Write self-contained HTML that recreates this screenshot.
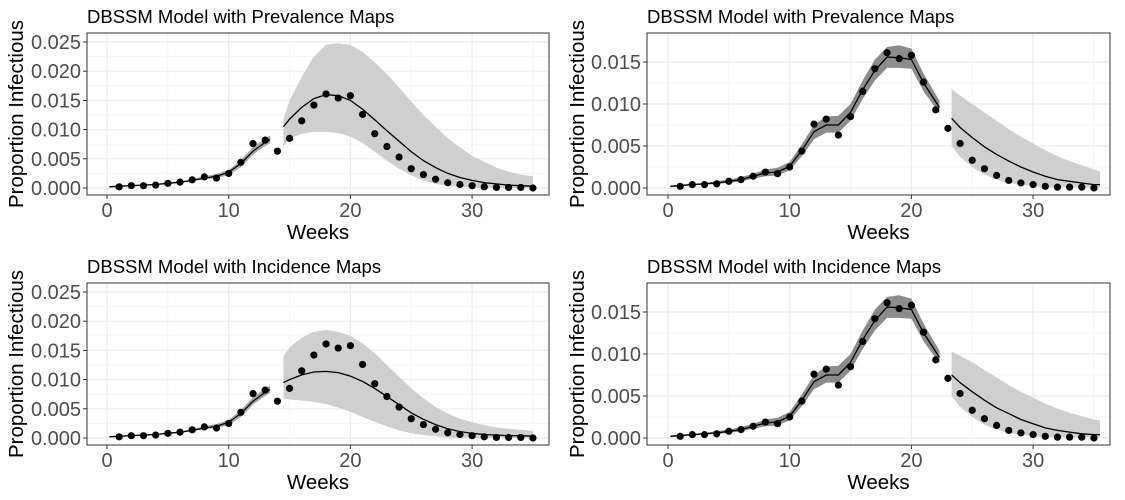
<!DOCTYPE html>
<html><head><meta charset="utf-8"><style>
body{margin:0;background:#fff}
svg{display:block;font-family:"Liberation Sans",Arial,sans-serif}
</style></head><body>
<svg id="c" width="1125" height="500" viewBox="0 0 1125 500" xmlns="http://www.w3.org/2000/svg"></svg>
<script>
const weeks = [1,2,3,4,5,6,7,8,9,10,11,12,13,14,15,16,17,18,19,20,21,22,23,24,25,26,27,28,29,30,31,32,33,34,35];
const observed = [.0002,.0004,.0004,.0005,.0008,.0010,.0014,.0019,.0017,.0025,.0044,.0076,.0082,.0063,.0085,.0115,.0142,.0161,.0154,.0158,.0126,.0093,.0071,.0053,.0033,.0023,.0015,.0009,.0006,.0004,.0002,.0001,.0001,.0001,.0000];

const fitWeeksL = [0.2,1,2,3,4,5,6,7,8,9,10,11,12,13,13.4];
const fitValL = [.0002,.0003,.0004,.0005,.0006,.0008,.0010,.0013,.0017,.0020,.0027,.0042,.0063,.0078,.0083];
const fitLoL = [.0001,.0002,.0003,.0004,.0005,.0007,.0009,.0012,.0015,.0017,.0022,.0036,.0057,.0072,.0077];
const fitHiL = [.0003,.0004,.0005,.0006,.0007,.0009,.0011,.0015,.0020,.0024,.0031,.0048,.0070,.0085,.0090];

const fcWeeksL = [14.5,15,16,17,18,19,20,21,22,23,24,25,26,27,28,29,30,31,32,33,34,35];
const fcValPrevL = [.0105,.0118,.0138,.0153,.0160,.0158,.0150,.0135,.0117,.0098,.0080,.0062,.0047,.0035,.0025,.0018,.0013,.0009,.0007,.0005,.0004,.0003];
const fcHiPrevL = [.0118,.0150,.0190,.0225,.0245,.0248,.0245,.0233,.0215,.0195,.0172,.0148,.0125,.0105,.0085,.0070,.0055,.0045,.0035,.0028,.0023,.0020];
const fcLoPrevL = [.0070,.0085,.0093,.0096,.0096,.0094,.0088,.0077,.0062,.0047,.0033,.0022,.0013,.0007,.0004,.0002,.0001,0,0,0,0,0];
const fcValIncL = [.0095,.0100,.0108,.0113,.0114,.0112,.0106,.0097,.0085,.0071,.0057,.0043,.0032,.0023,.0016,.0011,.0008,.0006,.0005,.0004,.0004,.0003];
const fcHiIncL = [.0140,.0155,.0172,.0182,.0185,.0182,.0175,.0162,.0145,.0125,.0105,.0085,.0068,.0053,.0042,.0033,.0027,.0022,.0018,.0016,.0014,.0012];
const fcLoIncL = [.0068,.0066,.0064,.0062,.0058,.0052,.0045,.0036,.0028,.0020,.0013,.0008,.0005,.0003,.0001,0,0,0,0,0,0,0];

const fitWeeksR = [0.2,1,2,3,4,5,6,7,8,9,10,11,12,13,14,15,16,17,18,19,20,21,22.3];
const fitValR = [.0002,.0003,.0004,.0005,.0006,.0008,.0010,.0014,.0018,.0019,.0026,.0045,.0067,.0075,.0075,.0090,.0117,.0140,.0156,.0155,.0153,.0125,.0096];
const fitLoR = [.0001,.0002,.0003,.0004,.0005,.0006,.0008,.0011,.0014,.0015,.0021,.0038,.0058,.0066,.0066,.0080,.0106,.0128,.0143,.0143,.0142,.0115,.0089];
const fitHiR = [.0003,.0004,.0005,.0006,.0008,.0010,.0013,.0017,.0022,.0024,.0031,.0052,.0075,.0085,.0086,.0100,.0128,.0153,.0168,.0170,.0166,.0136,.0104];

const fcWeeksR = [23.3,24,25,26,27,28,29,30,31,32,33,34,35,35.5];
const fcValPrevR = [.0083,.0072,.0060,.0049,.0040,.0032,.0025,.0019,.0014,.0010,.0008,.0006,.0004,.0004];
const fcHiPrevR = [.0118,.0110,.0100,.0090,.0080,.0070,.0061,.0053,.0045,.0038,.0032,.0027,.0022,.0020];
const fcLoPrevR = [.0050,.0037,.0025,.0016,.0010,.0006,.0004,.0002,.0001,.0001,.0001,.0001,.0001,.0001];
const fcValIncR = [.0075,.0066,.0055,.0045,.0036,.0029,.0022,.0017,.0012,.0009,.0007,.0005,.0004,.0004];
const fcHiIncR = [.0103,.0098,.0090,.0081,.0072,.0063,.0055,.0048,.0041,.0035,.0030,.0026,.0022,.0021];
const fcLoIncR = [.0050,.0037,.0025,.0016,.0010,.0006,.0004,.0002,.0001,.0001,.0001,.0001,.0001,.0001];

const yTicksL = [0,0.005,0.010,0.015,0.020,0.025];
const yTicksR = [0,0.005,0.010,0.015];
const xTicks = [0,10,20,30];

const NS = "http://www.w3.org/2000/svg";
const svg = document.getElementById('c');
function mk(tag, attrs, parent){
  const e = document.createElementNS(NS, tag);
  for (const k in attrs) e.setAttribute(k, attrs[k]);
  (parent||svg).appendChild(e);
  return e;
}

function panel(p){
  const g = mk('g', {});
  
  
  const X = w => p.x0 + w * 12.17;
  const Y = v => p.yBase - v * p.yScale;
  const r = mk('rect', {x:p.left, y:p.top, width:p.right-p.left, height:p.bottom-p.top, fill:'#fff'}, g);
  
  
  for (let i = 0; i < p.yTicks.length - 1; i++) {
    const v = (p.yTicks[i] + p.yTicks[i+1]) / 2;
    mk('line', {x1:p.left, x2:p.right, y1:Y(v), y2:Y(v), stroke:'#f5f5f5', 'stroke-width':1}, g);
  }
  for (let i = 0; i < p.xTicks.length; i++) {
    const w = p.xTicks[i] + 5;
    mk('line', {x1:X(w), x2:X(w), y1:p.top, y2:p.bottom, stroke:'#f5f5f5', 'stroke-width':1}, g);
  }
  p.yTicks.forEach(v => {
    const l = mk('line', {x1:p.left, x2:p.right, y1:Y(v), y2:Y(v), stroke:'#ebebeb', 'stroke-width':1.2}, g);
    
    
    mk('line', {x1:p.left-4, x2:p.left, y1:Y(v), y2:Y(v), stroke:'#333', 'stroke-width':1}, g);
    const t = mk('text', {x:p.left-6, y:Y(v)+7, 'text-anchor':'end', 'font-size':20, fill:'#4d4d4d'}, g);
    t.textContent = v.toFixed(3);
    
    
  });
  p.xTicks.forEach(w => {
    const l = mk('line', {x1:X(w), x2:X(w), y1:p.top, y2:p.bottom, stroke:'#ebebeb', 'stroke-width':1.2}, g);
    
    
    mk('line', {x1:X(w), x2:X(w), y1:p.bottom, y2:p.bottom+4, stroke:'#333', 'stroke-width':1}, g);
    const t = mk('text', {x:X(w), y:p.bottom+22, 'text-anchor':'middle', 'font-size':20, fill:'#4d4d4d'}, g);
    t.textContent = w;
    
    
  });
  function band(ws, lo, hi, fill, name){
    let d = '';
    ws.forEach((w,i) => d += (i ? 'L' : 'M') + X(w).toFixed(1) + ',' + Y(hi[i]).toFixed(1));
    for (let i = ws.length - 1; i >= 0; i--) d += 'L' + X(ws[i]).toFixed(1) + ',' + Y(lo[i]).toFixed(1);
    const e = mk('path', {d:d+'Z', fill:fill}, g);
    
    
  }
  function line(ws, vs, name){
    const pts = ws.map((w,i) => X(w).toFixed(1) + ',' + Y(vs[i]).toFixed(1)).join(' ');
    const e = mk('polyline', {points:pts, fill:'none', stroke:'#000', 'stroke-width':1.3}, g);
    
    
  }
  band(p.fcW, p.fcLo, p.fcHi, '#cfcfcf', 'forecast-band');
  band(p.fitW, p.fitLo, p.fitHi, p.fitFill, 'fitted-band');
  line(p.fcW, p.fcVal, 'forecast-line');
  line(p.fitW, p.fitVal, 'fitted-line');
  weeks.forEach((w,i) => {
    const c = mk('circle', {cx:X(w), cy:Y(observed[i]), r:3.6, fill:'#000'}, g);
    
    
  });
  const b = mk('rect', {x:p.left, y:p.top, width:p.right-p.left, height:p.bottom-p.top, fill:'none', stroke:'#333', 'stroke-width':1}, g);
  
  
  const tt = mk('text', {x:p.left, y:p.top-10, 'font-size':18.5, fill:'#000'}, g);
  tt.textContent = p.title;
  
  
  const xt = mk('text', {x:(p.left+p.right)/2, y:p.bottom+44, 'text-anchor':'middle', 'font-size':20.5, fill:'#000'}, g);
  xt.textContent = 'Weeks';
  
  
  const cy = (p.top+p.bottom)/2;
  const yt = mk('text', {x:p.ytx, y:cy, 'text-anchor':'middle', 'font-size':20.5, fill:'#000', transform:'rotate(-90 '+p.ytx+' '+cy+')'}, g);
  yt.textContent = 'Proportion Infectious';
  
  
}

const L = {left:87, right:549, x0:107, ytx:23, yTicks:yTicksL, xTicks:xTicks, yScale:(188-42)/0.025, fitFill:'#a8a8a8',
  fitW:fitWeeksL, fitVal:fitValL, fitLo:fitLoL, fitHi:fitHiL};
const R = {left:647, right:1110, x0:668, ytx:584, yTicks:yTicksR, xTicks:xTicks, yScale:(188-62)/0.015, fitFill:'#8c8c8c',
  fitW:fitWeeksR, fitVal:fitValR, fitLo:fitLoR, fitHi:fitHiR};

panel(Object.assign({}, L, {name:'panel-prevalence-left', title:'DBSSM Model with Prevalence Maps', top:33, bottom:195, yBase:188,
  fcW:fcWeeksL, fcVal:fcValPrevL, fcLo:fcLoPrevL, fcHi:fcHiPrevL}));
panel(Object.assign({}, R, {name:'panel-prevalence-right', title:'DBSSM Model with Prevalence Maps', top:33, bottom:195, yBase:188,
  fcW:fcWeeksR, fcVal:fcValPrevR, fcLo:fcLoPrevR, fcHi:fcHiPrevR}));
panel(Object.assign({}, L, {name:'panel-incidence-left', title:'DBSSM Model with Incidence Maps', top:283, bottom:445, yBase:438,
  fcW:fcWeeksL, fcVal:fcValIncL, fcLo:fcLoIncL, fcHi:fcHiIncL}));
panel(Object.assign({}, R, {name:'panel-incidence-right', title:'DBSSM Model with Incidence Maps', top:283, bottom:445, yBase:438,
  fcW:fcWeeksR, fcVal:fcValIncR, fcLo:fcLoIncR, fcHi:fcHiIncR}));
</script>
</body></html>
